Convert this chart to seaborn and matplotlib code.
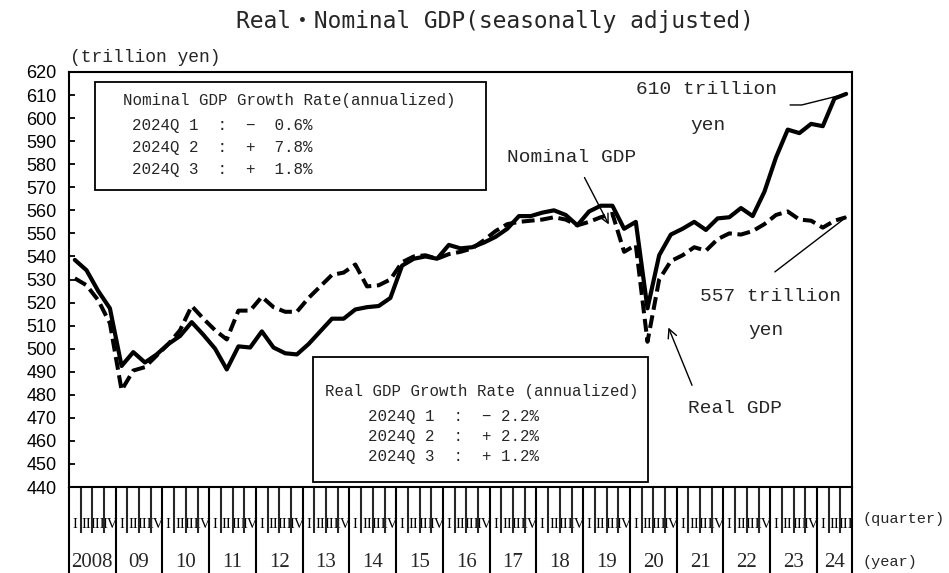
import seaborn as sns
import matplotlib.pyplot as plt
import matplotlib.transforms as mtransforms
from matplotlib.patches import Rectangle
import pandas as pd

# data (trillion yen), 2008Q1 .. 2024Q3
nominal = [538.5, 534, 525, 517.5, 492.5, 498.5, 494, 497.5, 502, 505.5,
           511.5, 506, 500, 491, 501, 500.5, 507.5, 500.5, 498, 497.5,
           502, 507.5, 513, 513, 517, 518, 518.5, 522, 536, 539,
           540, 539, 545, 543.5, 544, 546, 548.5, 552, 557.5, 557.5,
           559, 560, 558, 553.5, 559.5, 562, 562, 552, 555, 517.5,
           540.5, 549.5, 552, 555, 551.5, 556.5, 557, 561, 557.5, 568,
           583, 595, 593.5, 597.5, 596.5, 608.5, 610.5]
real = [530.5, 527.5, 521, 511, 482, 490.5, 492, 497, 502, 508,
        518.5, 513, 508, 504, 516.5, 516.5, 522.5, 518, 516, 516,
        522, 527, 532, 533, 536.5, 527, 527.5, 530, 537.5, 540,
        540.5, 539, 541, 542, 543.5, 547, 551, 554, 555, 555.5,
        556, 557, 556, 553.5, 555, 557, 558.5, 542, 545, 503,
        530, 538, 540.5, 544, 542.5, 547.5, 550, 549.5, 551, 554,
        558, 559.5, 556, 555.5, 552.5, 555.5, 557]
years = ['2008', '09', '10', '11', '12', '13', '14', '15', '16', '17',
         '18', '19', '20', '21', '22', '23', '24']
quarters = ['I', 'II', 'III', 'IV']
nominal_rates = ['−  0.6%', '+  7.8%', '+  1.8%']
real_rates = ['− 2.2%', '+ 2.2%', '+ 1.2%']

n = len(nominal)
df = pd.DataFrame({'q': range(n), 'nominal': nominal, 'real': real})

sns.set_theme(style="ticks")
plt.rcParams['font.family'] = ['Liberation Mono', 'Noto Sans CJK JP']

fig = plt.figure(figsize=(9.49, 5.73), dpi=100)
ax = fig.add_axes([69/949, 1-487/573, 783/949, 415/573])

sns.lineplot(data=df, x='q', y='nominal', color='black', lw=3, ax=ax)
sns.lineplot(data=df, x='q', y='real', color='black', lw=2.9,
             ls=(0, (3.2, 1.4)), ax=ax)

ax.set_xlim(-0.5, n - 0.5)
ax.set_ylim(440, 620)
ax.set_yticks(range(440, 621, 10))
ax.set_xlabel('')
ax.set_ylabel('')
for s in ax.spines.values():
    s.set_visible(True)
    s.set_linewidth(1.5)
    s.set_color('black')
ax.tick_params(axis='y', direction='in', length=4.5, width=1.3, pad=9,
               labelsize=13, colors='black')
for t in ax.get_yticklabels():
    t.set_family('Liberation Sans')

# quarter labels on the axis
ax.set_xticks(range(n))
ax.set_xticklabels([quarters[i % 4] for i in range(n)], family='Liberation Serif',
                   fontsize=10.5)
ax.tick_params(axis='x', length=0, pad=22, colors='black')
bounds = [i + 0.5 for i in range(n - 1) if (i + 1) % 4 != 0]
ax.set_xticks(bounds, minor=True)
ax.tick_params(axis='x', which='minor', direction='out', length=33, width=1.5)

# year separators and labels
trans = mtransforms.blended_transform_factory(ax.transData, ax.transAxes)
ybounds = [-0.5] + [i + 0.5 for i in range(n - 1) if (i + 1) % 4 == 0] + [n - 0.5]
ax.vlines(ybounds, 0, -0.21, transform=trans, color='black', lw=1.5, clip_on=False)
for k, lab in enumerate(years):
    xc = (ybounds[k] + ybounds[k + 1]) / 2
    ax.text(xc, -0.181, lab, transform=trans, ha='center', va='center',
            family='Liberation Serif', fontsize=15)
ax.text(1.013, -0.078, '(quarter)', transform=ax.transAxes, ha='left', va='center',
        fontsize=11)
ax.text(1.013, -0.181, '(year)', transform=ax.transAxes, ha='left', va='center',
        fontsize=11)

# title and unit
fig.text(0.522, 0.962, 'Real・Nominal GDP(seasonally adjusted)', ha='center',
         va='center', fontsize=16.5, family=['DejaVu Sans Mono', 'Noto Sans CJK JP'])
fig.text(70/949, 1-57/573, '(trillion yen)', ha='left', va='center', fontsize=13)

# growth rate boxes
ax.add_patch(Rectangle((0.0332, 0.7157), 0.4994, 0.2602, transform=ax.transAxes,
                       fill=False, lw=1.3, ec='black'))
ax.text(0.069, 0.9325, 'Nominal GDP Growth Rate(annualized)', transform=ax.transAxes,
        va='center', fontsize=11.4)
for k, (yy, r) in enumerate(zip([0.872, 0.819, 0.764], nominal_rates)):
    ax.text(0.0805, yy, f'2024Q {k + 1}  :  {r}', transform=ax.transAxes,
            va='center', fontsize=11.4)

ax.add_patch(Rectangle((0.3116, 0.012), 0.4279, 0.3013, transform=ax.transAxes,
                       fill=False, lw=1.3, ec='black'))
ax.text(0.327, 0.229, 'Real GDP Growth Rate (annualized)', transform=ax.transAxes,
        va='center', fontsize=11.3)
for k, (yy, r) in enumerate(zip([0.1687, 0.1205, 0.0723], real_rates)):
    ax.text(0.3819, yy, f'2024Q {k + 1}  :  {r}', transform=ax.transAxes,
            va='center', fontsize=11.3)

# annotations
arrow = dict(arrowstyle='->', color='black', lw=1, mutation_scale=16)
ax.text(0.5594, 0.795, 'Nominal GDP', transform=ax.transAxes, va='center', fontsize=14)
ax.annotate('', xy=(45.8, 552.8), xytext=(43.5, 575.3), arrowprops=arrow)
ax.text(0.7905, 0.19, 'Real GDP', transform=ax.transAxes, va='center', fontsize=14)
ax.annotate('', xy=(50.7, 510.3), xytext=(52.9, 483), arrowprops=arrow)

ax.text(0.724, 0.959, f'{round(nominal[-1])} trillion', transform=ax.transAxes,
        va='center', fontsize=14)
ax.text(0.816, 0.872, 'yen', transform=ax.transAxes, ha='center', va='center', fontsize=14)
ax.plot([61.2, 62.2, n - 1], [605.7, 605.7, nominal[-1]], color='black', lw=1)

ax.text(0.806, 0.458, f'{round(real[-1])} trillion', transform=ax.transAxes,
        va='center', fontsize=14)
ax.text(0.89, 0.376, 'yen', transform=ax.transAxes, ha='center', va='center', fontsize=14)
ax.plot([59.9, n - 1], [533.3, real[-1]], color='black', lw=1)

fig.savefig('out.png', dpi=100)
